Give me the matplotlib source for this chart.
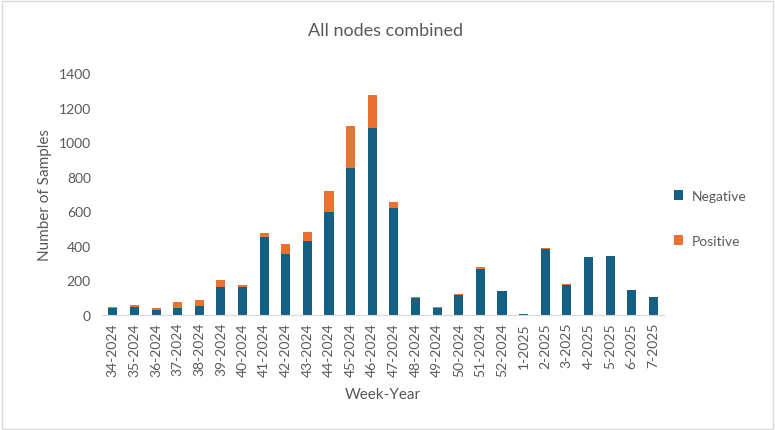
import matplotlib.pyplot as plt
import numpy as np
from matplotlib.patches import Rectangle

plt.rcParams['font.family'] = ['Lato', 'DejaVu Sans']

# Data
weeks = ['34-2024', '35-2024', '36-2024', '37-2024', '38-2024', '39-2024', '40-2024',
         '41-2024', '42-2024', '43-2024', '44-2024', '45-2024', '46-2024', '47-2024',
         '48-2024', '49-2024', '50-2024', '51-2024', '52-2024', '1-2025', '2-2025',
         '3-2025', '4-2025', '5-2025', '6-2025', '7-2025']
negative = [38, 45, 30, 38, 50, 160, 160, 450, 355, 430, 595, 850, 1080, 620,
            100, 42, 118, 268, 141, 8, 382, 175, 334, 341, 145, 105]
positive = [6, 12, 12, 35, 35, 40, 15, 25, 55, 50, 125, 245, 195, 35,
            7, 6, 6, 8, 0, 0, 8, 6, 3, 0, 0, 0]

grey = '#595959'
fig = plt.figure(figsize=(7.75, 4.31), dpi=100)
ax = fig.add_axes([0.1316, 0.2668, 0.7254, 0.5615])

x = np.arange(len(weeks))
ax.bar(x, negative, width=0.42, color='#156082', label='Negative')
ax.bar(x, positive, width=0.42, bottom=negative, color='#E97132', label='Positive')

ax.set_xlim(-0.5, len(weeks) - 0.5)
ax.set_ylim(0, 1400)
ax.set_yticks(range(0, 1401, 200))
ax.set_xticks(x)
ax.set_xticklabels(weeks, rotation=90, fontsize=10, color=grey)
ax.tick_params(axis='y', labelsize=10, colors=grey, length=0, pad=8)
ax.tick_params(axis='x', length=0, pad=5)
for s in ['top', 'right', 'left']:
    ax.spines[s].set_visible(False)
ax.spines['bottom'].set_color('#D9D9D9')

ax.set_ylabel('Number of Samples', fontsize=11, color=grey, labelpad=5)
ax.set_xlabel('Week-Year', fontsize=11, color=grey, labelpad=8)
fig.text(0.497, 0.928, 'All nodes combined', ha='center', va='center',
         fontsize=13, color=grey)

ax.legend(loc='center left', bbox_to_anchor=(0.853, 0.491), bbox_transform=fig.transFigure,
          frameon=False, handlelength=0.7, handleheight=0.7, labelspacing=2.4,
          handletextpad=0.6, fontsize=10, labelcolor=grey)

fig.patches.append(Rectangle((0.002, 0.003), 0.995, 0.993, transform=fig.transFigure,
                             fill=False, edgecolor='#D9D9D9', linewidth=1))

fig.savefig('out.png', dpi=100)
